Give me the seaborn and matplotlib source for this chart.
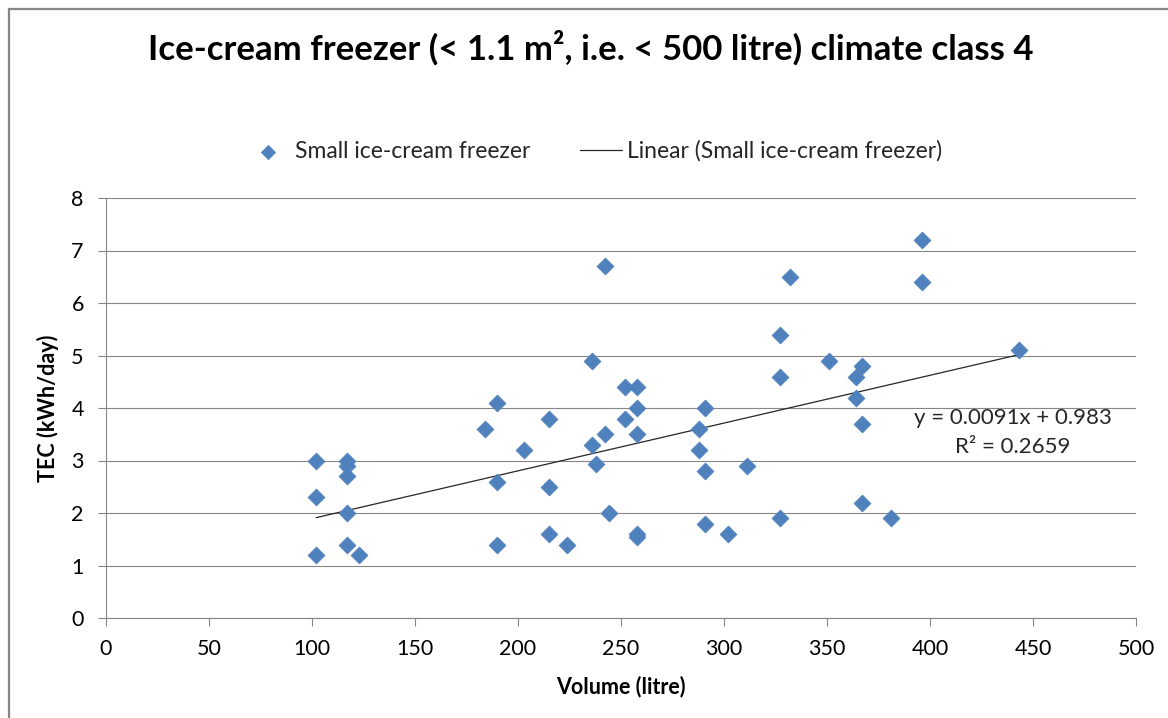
import matplotlib
matplotlib.use("Agg")
import matplotlib.pyplot as plt
import seaborn as sns
import numpy as np
import pandas as pd
from matplotlib.patches import Rectangle

# ---- data ----
volume_litre = [102, 102, 102, 117, 117, 117, 117, 117, 123, 184,
                190, 190, 190, 203, 215, 215, 215, 224, 236, 236,
                238, 242, 242, 244, 252, 252, 258, 258, 258, 258,
                258, 288, 288, 291, 291, 291, 302, 311, 327, 327,
                327, 332, 351, 364, 364, 367, 367, 367, 381, 396,
                396, 443]
tec_kwh_day = [3.0, 2.3, 1.2, 3.0, 2.9, 2.7, 2.0, 1.4, 1.2, 3.6,
               4.1, 2.6, 1.4, 3.2, 3.8, 2.5, 1.6, 1.4, 4.9, 3.3,
               2.94, 6.7, 3.5, 2.0, 4.4, 3.8, 4.4, 4.0, 3.5, 1.6,
               1.55, 3.6, 3.2, 4.0, 2.8, 1.8, 1.6, 2.9, 5.4, 4.6,
               1.9, 6.5, 4.9, 4.6, 4.2, 4.8, 3.7, 2.2, 1.9, 7.2,
               6.4, 5.1]
# trendline coefficients as printed on the chart
trend_slope = 0.0091
trend_intercept = 0.983
x_ticks = [0, 50, 100, 150, 200, 250, 300, 350, 400, 450, 500]
y_ticks = [0, 1, 2, 3, 4, 5, 6, 7, 8]
title = "Ice-cream freezer (< 1.1 m², i.e. < 500 litre) climate class 4"
series_label = "Small ice-cream freezer"
trend_label = "Linear (Small ice-cream freezer)"
eq_text = "y = 0.0091x + 0.983"
r2_text = "R² = 0.2659"
x_label = "Volume (litre)"
y_label = "TEC (kWh/day)"

df = pd.DataFrame({"Volume": volume_litre, "TEC": tec_kwh_day})
trend_x = [min(volume_litre), max(volume_litre)]
trend_df = pd.DataFrame({"Volume": trend_x,
                         "TEC": [trend_slope * v + trend_intercept for v in trend_x]})

# ---- style ----
sns.set_style("white")
plt.rcParams["font.family"] = ["Lato", "DejaVu Sans"]

W, H = 1168, 718
fig = plt.figure(figsize=(W / 100, H / 100), dpi=100)
ax = fig.add_axes([106 / W, 100 / H, 1030 / W, 420 / H])

blue = "#4F81BD"
grey = "#868686"

sns.scatterplot(data=df, x="Volume", y="TEC", marker="D", s=76, color=blue,
                edgecolor=blue, linewidth=0.4, label=series_label, ax=ax, zorder=3)
sns.lineplot(data=trend_df, x="Volume", y="TEC", color="#262626", lw=0.9,
             label=trend_label, ax=ax, zorder=2)

ax.set_xlim(0, 500)
ax.set_ylim(0, 8)
ax.set_xticks(x_ticks)
ax.set_yticks(y_ticks)

ax.yaxis.grid(True, color=grey, lw=0.8)
ax.xaxis.grid(False)
ax.set_axisbelow(True)
for side in ["top", "right"]:
    ax.spines[side].set_visible(False)
for side in ["left", "bottom"]:
    ax.spines[side].set_color(grey)
    ax.spines[side].set_linewidth(0.8)

ax.tick_params(axis="both", which="major", direction="out", length=6, width=0.8,
               color=grey, labelsize=15.5, labelcolor="black", bottom=True, left=True)
ax.tick_params(axis="x", pad=9)
ax.tick_params(axis="y", pad=10)

ax.set_xlabel(x_label, fontsize=15.5, fontweight="bold", color="black")
ax.set_ylabel(y_label, fontsize=15.5, fontweight="bold", color="black")
ax.xaxis.label.set_va("center")
ax.yaxis.label.set_va("center")
ax.xaxis.set_label_coords(0.5, (718 - 687 - 100) / 420)
ax.yaxis.set_label_coords((48 - 106) / 1030, 0.5)

# legend
ax.legend(loc="center", bbox_to_anchor=(595 / W, 1 - 151 / H),
          bbox_transform=fig.transFigure, ncol=2, frameon=False, fontsize=16.5,
          handlelength=1.8, handletextpad=0.25, columnspacing=2.2,
          scatterpoints=1, markerscale=0.85)

# title
fig.text(591 / W, 1 - 48 / H, title, ha="center", va="center",
         fontsize=25, fontweight="bold", color="black")

# trendline equation
fig.text(1013 / W, 1 - 418 / H, eq_text, ha="center", va="center", fontsize=16)
fig.text(1013 / W, 1 - 447 / H, r2_text, ha="center", va="center", fontsize=16)

# chart border
fig.add_artist(Rectangle((8.5 / W, -0.2), 1.5, 1.2 - 8.5 / H, transform=fig.transFigure,
                         fill=False, edgecolor=grey, lw=1.6))

fig.savefig("out.png", dpi=100)
